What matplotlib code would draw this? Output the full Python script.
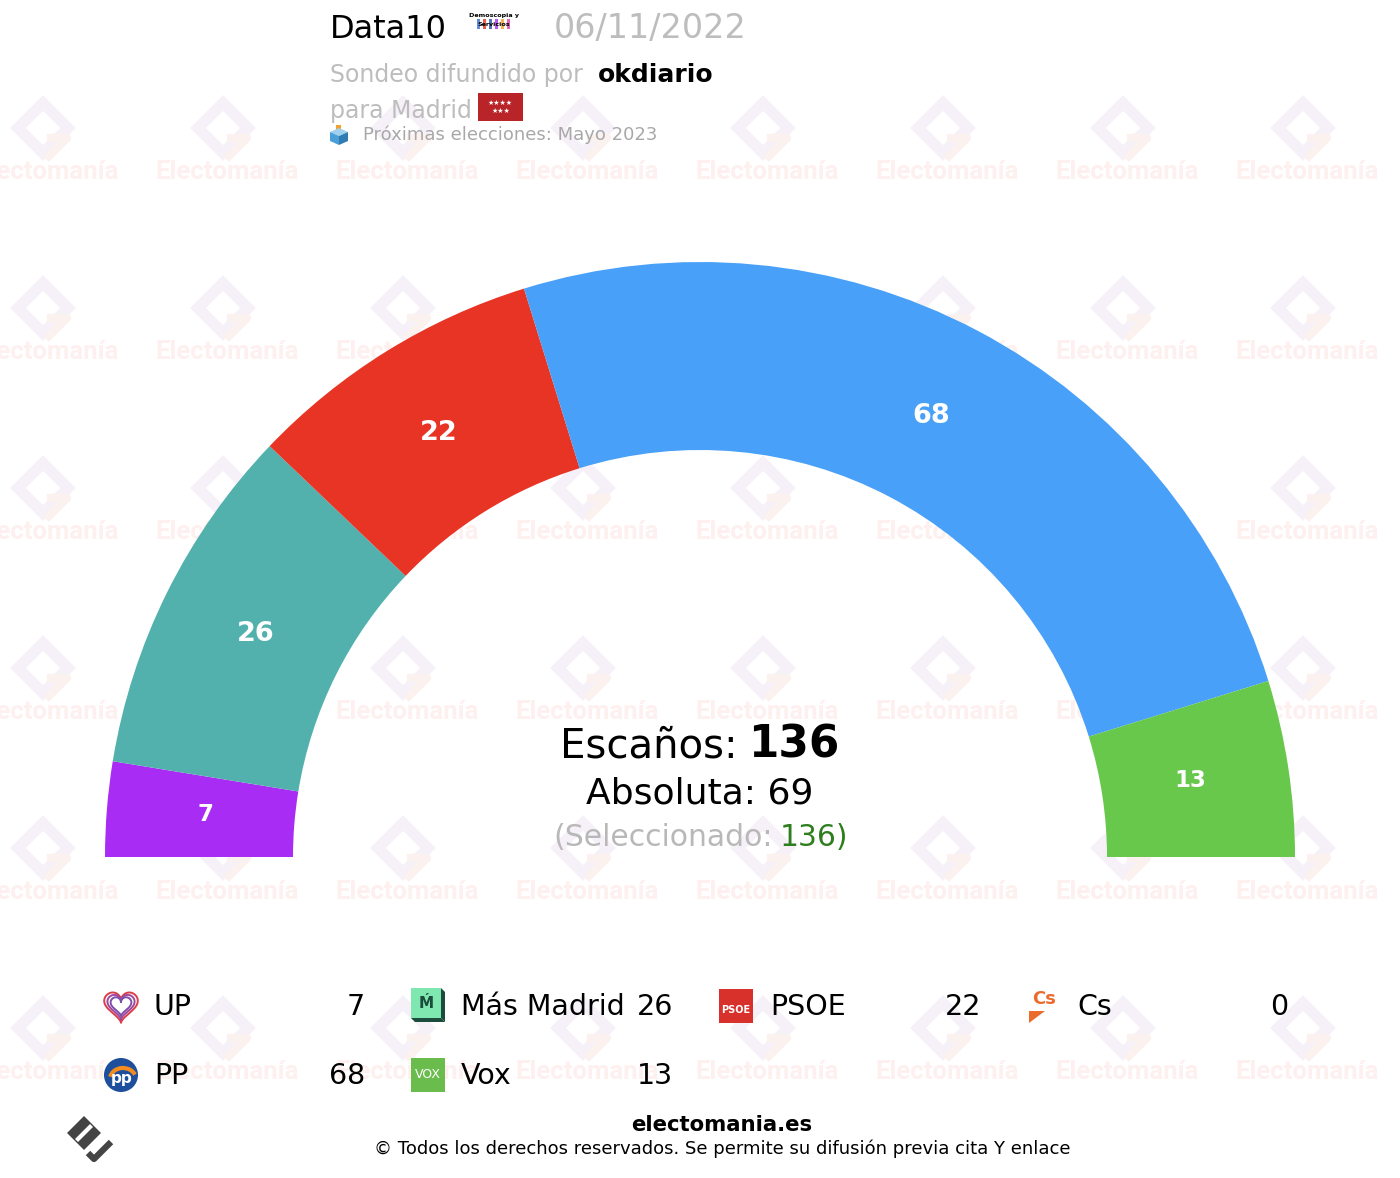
import numpy as np
import matplotlib
matplotlib.use('Agg')
from matplotlib import pyplot as plt
from matplotlib.patches import Wedge, Rectangle, Polygon, Circle, Arc

# seats per party (legend order)
parties = ['UP', 'Más Madrid', 'PSOE', 'Cs', 'PP', 'Vox']
seats = [7, 26, 22, 0, 68, 13]
colors = ['#a92cf5', '#52b1ad', '#e83425', '#eb6b2c', '#48a0f8', '#67c84b']
# order of the arcs from left to right
arc_order = ['UP', 'Más Madrid', 'PSOE', 'Cs', 'PP', 'Vox']
total_seats = 136
majority = 69
selected = 136

title = 'Data10'
date = '06/11/2022'
media = 'okdiario'
region = 'Madrid'
next_election = 'Próximas elecciones: Mayo 2023'

W, H = 1400, 1178
CX, CY = 700, 857
R_OUT, R_IN = 595, 407

fig = plt.figure(figsize=(W / 100, H / 100), dpi=100)
ax = fig.add_axes([0, 0, 1, 1])
ax.set_xlim(0, W)
ax.set_ylim(H, 0)
ax.axis('off')


def watermark(x, y):
    # faint electomania mark, drawn under everything
    d = 25
    cx, cy = x - 4, y - 44
    ax.add_patch(Polygon([(cx, cy - d), (cx + d, cy), (cx, cy + d), (cx - d, cy)],
                         closed=True, fill=False, lw=8, ec='#f6f1f8', zorder=0))
    ax.plot([cx + 6, cx + 24, cx + 8], [cy + 28, cy + 10, cy + 10], color='#fbf2f0', lw=6, zorder=0)
    ax.text(x, y, 'Electomanía', family='Roboto', weight='bold', fontsize=18.5,
            color='#fdf0ee', ha='center', va='center', zorder=0)


for wx in range(47, W + 100, 180):
    for wy in range(172, H, 180):
        watermark(wx, wy)

# hemicycle
theta = 180.0
for name in arc_order:
    i = parties.index(name)
    n = seats[i]
    if n == 0:
        continue
    span = n / total_seats * 180.0
    ax.add_patch(Wedge((CX, CY), R_OUT, theta, theta + span, width=R_OUT - R_IN,
                       fc=colors[i], ec='none', zorder=2))
    mid = np.radians(theta + span / 2)
    r_lab = 496
    ax.text(CX + r_lab * np.cos(mid), CY + r_lab * np.sin(mid) - 2, str(n),
            color='white', weight='bold', fontsize=19.5 if n >= 20 else 16.5,
            ha='center', va='center', zorder=3)
    theta += span

# centre text
ax.text(738, 757, 'Escaños:', fontsize=29, ha='right', va='baseline', zorder=4)
ax.text(748, 757, str(total_seats), fontsize=31.5, weight='bold', ha='left', va='baseline', zorder=4)
ax.text(700, 803, 'Absoluta: {}'.format(majority), fontsize=26, ha='center', va='baseline', zorder=4)
ax.text(773, 846, '(Seleccionado:', fontsize=21.5, color='#b8b8b8', ha='right', va='baseline', zorder=4)
ax.text(780, 846, '{})'.format(selected), fontsize=21.5, color='#2e7d1e', ha='left', va='baseline', zorder=4)

# header
ax.text(330, 38, title, fontsize=23, ha='left', va='baseline')
ax.text(554, 38, date, fontsize=24, color='#bdbdbd', ha='left', va='baseline')
ax.text(494, 16, 'Demoscopia y', fontsize=4.6, weight='bold', ha='center', va='center')
ax.text(494, 25, 'Servicios', fontsize=4.6, weight='bold', ha='center', va='center')
for k, c in enumerate(['#3a6fd8', '#e83425', '#2e4fa8', '#a92cf5', '#f0a030', '#e040a0']):
    ax.add_patch(Rectangle((477 + k * 6, 19), 3, 10, fc=c, ec='none', alpha=0.8))
ax.text(330, 82, 'Sondeo difundido por', fontsize=17, color='#bdbdbd', ha='left', va='baseline')
ax.text(598, 82, media, fontsize=18, weight='bold', ha='left', va='baseline')
ax.text(330, 118, 'para ' + region, fontsize=17, color='#bdbdbd', ha='left', va='baseline')
ax.add_patch(Rectangle((478, 93), 45, 28, fc='#b92429', ec='none'))
ax.text(500.5, 103, '★★★★', fontsize=5, color='white', ha='center', va='center')
ax.text(500.5, 111, '★★★', fontsize=5, color='white', ha='center', va='center')
ax.add_patch(Rectangle((336, 125), 5, 6, fc='#f0a030', ec='none'))
ax.add_patch(Polygon([(330, 132), (339, 128), (348, 132), (339, 136)], closed=True, fc='#9fd0ee', ec='none'))
ax.add_patch(Polygon([(330, 132), (339, 136), (339, 145), (330, 141)], closed=True, fc='#4a9fd6', ec='none'))
ax.add_patch(Polygon([(339, 136), (348, 132), (348, 141), (339, 145)], closed=True, fc='#2f7cb5', ec='none'))
ax.text(363, 140, next_election, fontsize=13, color='#a8a8a8', ha='left', va='baseline')

# legend
col_icon = [121, 428, 736, 1044]
col_name = [154, 461, 770, 1077]
col_num = [365, 673, 981, 1288]
row_base = [1015, 1084]


def icon(name, x, y):
    if name == 'UP':
        t = np.linspace(0, 2 * np.pi, 200)
        hx = 16 * np.sin(t) ** 3
        hy = 13 * np.cos(t) - 5 * np.cos(2 * t) - 2 * np.cos(3 * t) - np.cos(4 * t)
        for s, c in zip([1.05, 0.85, 0.65], ['#d9404a', '#a1479f', '#7d4fa8']):
            ax.plot(x + s * hx, y - 1 - s * hy, color=c, lw=1.4)
    elif name == 'Más Madrid':
        ax.add_patch(Polygon([(x - 17, y + 12), (x + 13, y + 12), (x + 17, y + 16), (x + 17, y - 14),
                              (x + 13, y - 18), (x + 13, y + 12)], closed=True, fc='#1c4c3c', ec='none'))
        ax.add_patch(Rectangle((x - 17, y - 18), 30, 30, fc='#7ee8b0', ec='none'))
        ax.add_patch(Polygon([(x - 17, y + 12), (x + 13, y + 12), (x + 17, y + 16), (x - 13, y + 16)],
                             closed=True, fc='#1c4c3c', ec='none'))
        ax.text(x - 2, y - 3, 'Ḿ', fontsize=11, weight='bold', color='#1c4c3c', ha='center', va='center')
    elif name == 'PSOE':
        ax.add_patch(Rectangle((x - 17, y - 17), 34, 34, fc='#d8302a', ec='none'))
        ax.text(x, y + 4, 'PSOE', fontsize=7, weight='bold', color='white', ha='center', va='center')
    elif name == 'Cs':
        ax.text(x, y - 7, 'Cs', fontsize=13, weight='bold', color='#eb6b2c', ha='center', va='center')
        ax.add_patch(Polygon([(x - 15, y + 5), (x + 1, y + 5), (x - 15, y + 17)], closed=True,
                             fc='#eb6b2c', ec='none'))
    elif name == 'PP':
        ax.add_patch(Circle((x, y), 17, fc='#1d4f9c', ec='none'))
        ax.add_patch(Arc((x + 2, y + 4), 26, 22, theta1=190, theta2=340, color='#f28c1e', lw=3))
        ax.text(x + 1, y + 4, 'pp', fontsize=11, weight='bold', color='white', ha='center', va='center')
    elif name == 'Vox':
        ax.add_patch(Rectangle((x - 17, y - 17), 34, 34, fc='#6abc4d', ec='none'))
        ax.text(x, y, 'VOX', fontsize=9, color='white', ha='center', va='center')


for k, name in enumerate(parties):
    r, c = divmod(k, 4)
    i = parties.index(name)
    icon(name, col_icon[c], row_base[r] - 9)
    ax.text(col_name[c], row_base[r], name, fontsize=20.5, ha='left', va='baseline', zorder=4)
    ax.text(col_num[c], row_base[r], str(seats[i]), fontsize=20.5, ha='right', va='baseline', zorder=4)

# footer
ax.text(722, 1131, 'electomania.es', fontsize=15.3, weight='bold', ha='center', va='baseline')
ax.text(722, 1154, '© Todos los derechos reservados. Se permite su difusión previa cita Y enlace',
        fontsize=13, ha='center', va='baseline')
fx, fy = 84, 1133
ax.add_patch(Polygon([(fx, fy - 17), (fx + 17, fy), (fx, fy + 17), (fx - 17, fy)],
                     closed=True, fc='#444444', ec='none'))
ax.add_patch(Polygon([(fx + 6, fy - 9), (fx + 9, fy - 6), (fx - 6, fy + 9), (fx - 9, fy + 6)],
                     closed=True, fc='white', ec='none'))
ax.plot([fx + 4, fx + 10, fx + 27], [fy + 20, fy + 26, fy + 9], color='#444444', lw=4.5,
        solid_capstyle='butt')

fig.savefig('out.png', dpi=100)
